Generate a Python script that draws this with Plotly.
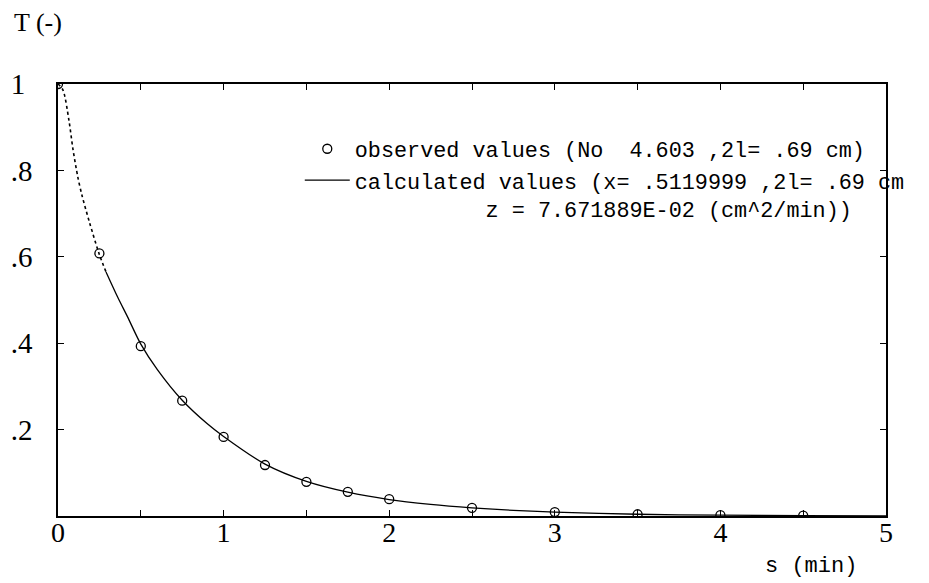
import plotly.graph_objects as go

# observed data points
obs_s = [0, 0.25, 0.5, 0.75, 1.0, 1.25, 1.5, 1.75, 2.0, 2.5, 3.0, 3.5, 4.0, 4.5]
obs_T = [1.0, 0.608, 0.393, 0.267, 0.183, 0.118, 0.079, 0.056, 0.039, 0.019, 0.009, 0.004, 0.002, 0.001]

# calculated curve (dotted early part, solid remainder)
calc_dot_s = [0, 0.03, 0.066, 0.09, 0.12, 0.145, 0.19, 0.25, 0.29]
calc_dot_T = [1.0, 0.986, 0.916, 0.85, 0.784, 0.742, 0.68, 0.605, 0.565]
calc_s = [0.29, 0.36, 0.42, 0.5, 0.6, 0.75, 0.9, 1.0, 1.25, 1.5, 1.75, 2.0, 2.25, 2.5, 2.75, 3.0, 3.5, 4.0, 4.5, 5.0]
calc_T = [0.565, 0.507, 0.461, 0.398, 0.339, 0.268, 0.214, 0.184, 0.12, 0.08, 0.055, 0.038, 0.027, 0.019, 0.013, 0.009, 0.004, 0.002, 0.001, 0.0005]

x_tickvals = [0, 0.5, 1, 1.5, 2, 2.5, 3, 3.5, 4, 4.5, 5]
x_ticktext = ["0", "", "1", "", "2", "", "3", "", "4", "", "5"]
y_tickvals = [0.2, 0.4, 0.6, 0.8, 1.0]
y_ticktext = [".2", ".4", ".6", ".8", "1\u00a0"]

NB = "\u00a0"
obs_name = "observed values (No" + NB * 2 + "4.603 ,2l= .69 cm)"
calc_name = ("calculated values (x= .5119999 ,2l= .69 cm<br>" + NB * 10 +
             "z = 7.671889E-02 (cm^2/min))")

FONT = "Liberation Mono"
SERIF = "Liberation Serif"

fig = go.Figure()
fig.add_trace(go.Scatter(
    x=obs_s, y=obs_T, mode="markers", name=obs_name,
    marker=dict(symbol="circle-open", size=9, color="black", line=dict(width=1.3)),
))
fig.add_trace(go.Scatter(
    x=calc_s, y=calc_T, mode="lines", name=calc_name,
    line=dict(color="black", width=1.3, shape="spline", smoothing=0.8),
))
fig.add_trace(go.Scatter(
    x=calc_dot_s, y=calc_dot_T, mode="lines", showlegend=False,
    line=dict(color="black", width=1.6, dash="dot", shape="spline", smoothing=0.8),
))

fig.update_layout(
    width=929, height=583,
    margin=dict(l=50, r=51, t=76, b=75),
    paper_bgcolor="white", plot_bgcolor="white",
    font=dict(family=FONT, size=21.8, color="black"),
    legend=dict(
        x=0.292, y=0.898, xanchor="left", yanchor="top", valign="top",
        bgcolor="rgba(0,0,0,0)", borderwidth=0,
        font=dict(family=FONT, size=21.8, color="black"),
        itemwidth=45, tracegroupgap=0,
    ),
    xaxis=dict(
        range=[0, 5], tickmode="array", tickvals=x_tickvals, ticktext=x_ticktext,
        ticks="inside", ticklen=6, tickwidth=1.2, tickcolor="black",
        showline=True, linecolor="black", linewidth=1.5, mirror="ticks",
        showgrid=False, zeroline=False, automargin=False,
        tickfont=dict(family=SERIF, size=28, color="black"),
        ticklabelstandoff=-9,
    ),
    yaxis=dict(
        range=[0, 1], tickmode="array", tickvals=y_tickvals, ticktext=y_ticktext,
        ticks="inside", ticklen=6, tickwidth=1.2, tickcolor="black",
        showline=True, linecolor="black", linewidth=1.5, mirror="ticks",
        showgrid=False, zeroline=False, automargin=False,
        tickfont=dict(family=SERIF, size=29, color="black"),
        ticklabelstandoff=18,
    ),
    annotations=[
        dict(text="T (-)", xref="paper", yref="paper", x=-0.056, y=1.143,
             xanchor="left", yanchor="middle", showarrow=False,
             font=dict(family=SERIF, size=26, color="black")),
        dict(text="s (min)", xref="paper", yref="paper", x=0.91, y=-0.118,
             xanchor="center", yanchor="middle", showarrow=False,
             font=dict(family=FONT, size=22, color="black")),
    ],
)

fig.write_html("out.html")
